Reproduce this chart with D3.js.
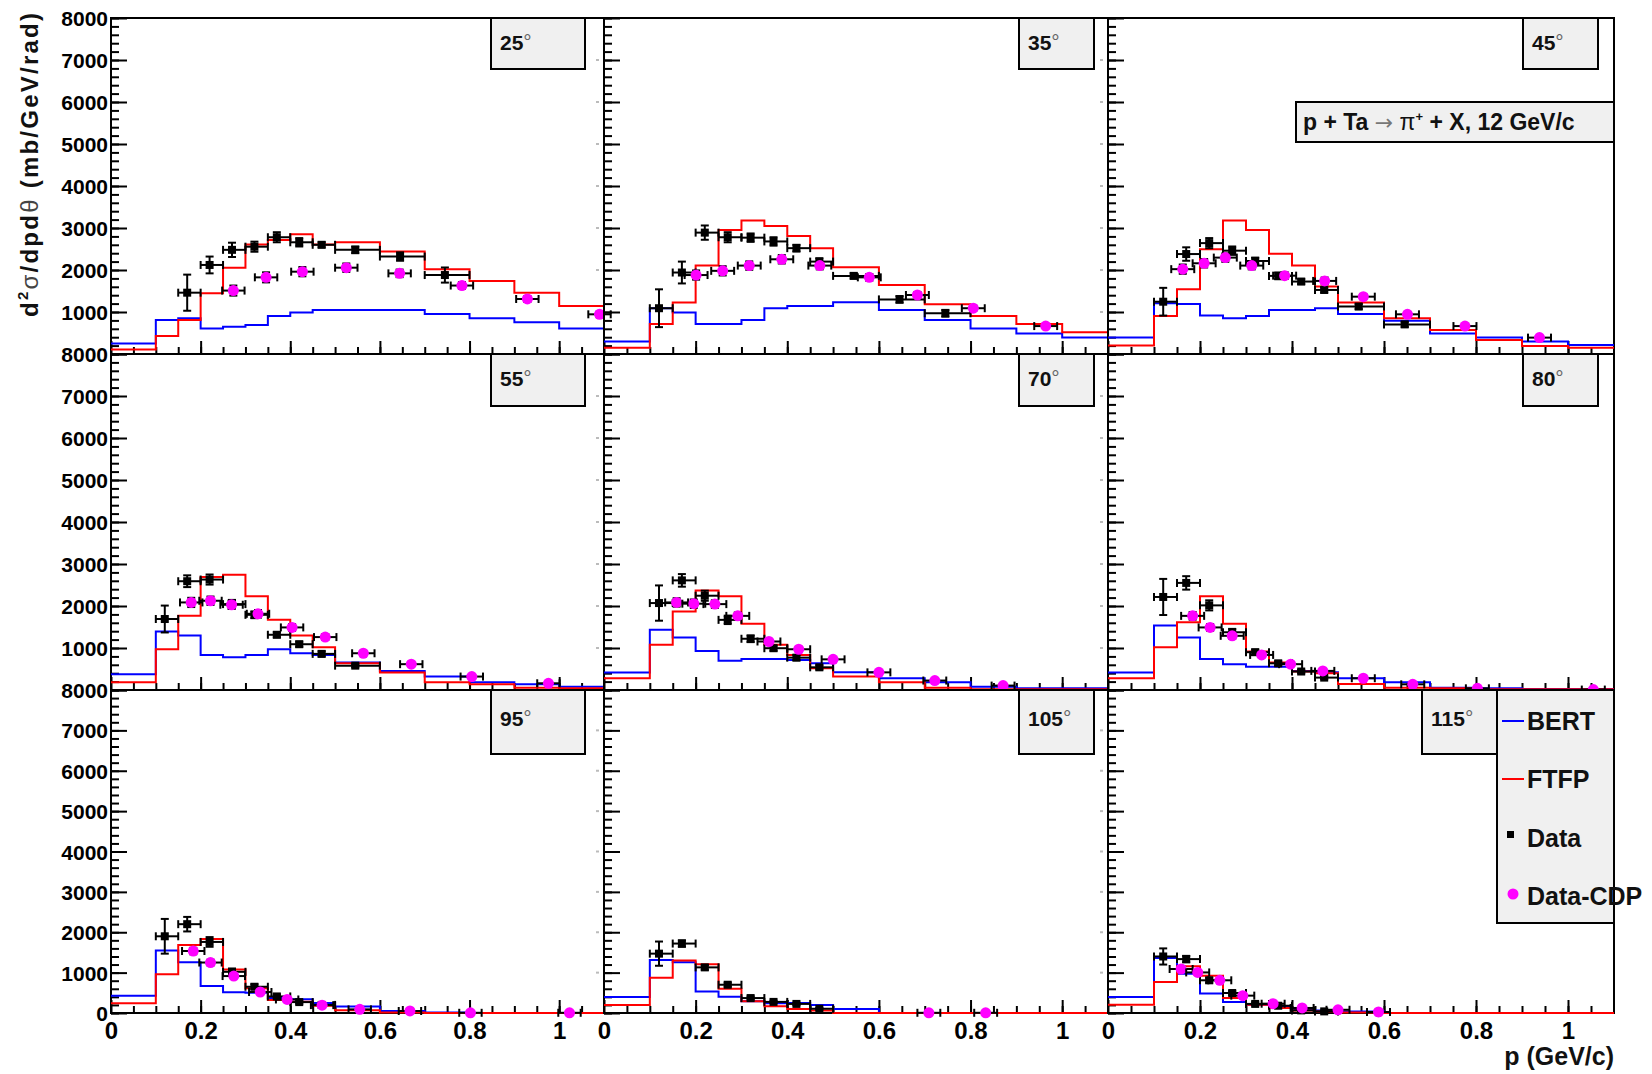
<!DOCTYPE html>
<html><head><meta charset="utf-8">
<script src="https://cdn.jsdelivr.net/npm/d3@7"></script>
<style>
body{margin:0;background:#fff}
svg{display:block}
text{font-family:"Liberation Sans",Arial,Helvetica,sans-serif;font-weight:bold}
</style>
</head><body>
<svg id="c" width="1652" height="1074"></svg>
<script>
// ---------------- DATA ----------------
const angles = ["25","35","45","55","70","80","95","105","115"];
const binEdges = [0,0.1,0.15,0.2,0.25,0.3,0.35,0.4,0.45,0.5,0.6,0.7,0.8,0.9,1.0,1.1];
const bertValues = [
  [250,810,850,610,650,690,905,990,1050,1050,1050,950,850,755,610],
  [295,1090,990,715,715,810,1090,1145,1145,1230,1050,810,610,490,390],
  [390,1210,1190,915,850,905,1050,1050,1090,955,790,490,390,295,215],
  [375,1395,1300,835,780,835,970,875,835,655,455,320,185,135,80],
  [415,1435,1250,930,695,740,740,715,635,420,280,185,80,40,40],
  [415,1535,1250,740,615,555,555,455,420,280,185,55,40,25,25],
  [430,1545,1255,670,515,500,370,340,250,160,50,15,0,0,0],
  [395,1310,1260,535,400,290,240,250,200,100,0,0,0,0,0],
  [395,1360,975,480,270,205,165,100,65,40,0,0,0,0,0]
];
const ftfpValues = [
  [110,430,810,1445,2055,2610,2715,2850,2610,2660,2440,2015,1740,1460,1145],
  [150,715,1225,2105,2955,3180,3050,2810,2520,2065,1645,1185,905,715,515],
  [200,905,1540,2495,3180,2955,2385,2105,1605,1225,850,570,335,190,150],
  [185,970,1765,2690,2745,2230,1670,1300,1020,635,415,185,135,55,40],
  [280,1075,1870,2370,2230,1575,1075,835,520,320,185,55,15,15,15],
  [280,1020,1615,2230,1575,915,655,440,400,145,55,40,15,15,15],
  [240,960,1685,1835,1075,610,320,280,180,70,15,0,0,0,0],
  [200,870,1300,1210,600,290,165,100,65,0,0,0,0,0,0],
  [205,765,1155,925,370,205,125,65,40,15,0,0,0,0,0]
];
const dataP = [
  [0.17,0.22,0.27,0.32,0.37,0.42,0.47,0.545,0.645,0.745],
  [0.12,0.17,0.22,0.27,0.32,0.37,0.42,0.47,0.545,0.645,0.745],
  [0.12,0.17,0.22,0.27,0.32,0.37,0.42,0.47,0.545,0.645],
  [0.12,0.17,0.22,0.27,0.32,0.37,0.42,0.47,0.545],
  [0.12,0.17,0.22,0.27,0.32,0.37,0.42,0.47],
  [0.12,0.17,0.22,0.27,0.32,0.37,0.42,0.47],
  [0.12,0.17,0.22,0.27,0.32,0.37,0.42,0.47],
  [0.12,0.17,0.22,0.27,0.32,0.37,0.42,0.47],
  [0.12,0.17,0.22,0.27,0.32,0.37,0.42,0.47]
];
const dataValues = [
  [1460,2120,2480,2555,2780,2660,2600,2480,2320,1880],
  [1090,1940,2890,2780,2770,2680,2520,2200,1860,1300,970],
  [1245,2380,2640,2460,2215,1860,1725,1525,1130,705],
  [1690,2590,2630,2045,1790,1315,1090,860,580],
  [2070,2610,2245,1670,1220,995,770,540],
  [2215,2550,2015,1375,900,635,440,295],
  [1900,2200,1760,1020,650,410,270,200],
  [1470,1720,1130,700,370,275,225,105],
  [1400,1335,810,495,225,180,65,40]
];
const dataErrors = [
  [430,200,170,120,120,100,60,80,100,180],
  [450,260,170,120,100,100,80,80,60,80,80],
  [330,160,120,100,80,80,60,60,60,60],
  [320,140,120,100,80,60,60,60,40],
  [420,150,120,100,80,60,60,50],
  [430,160,120,80,60,50,40,30],
  [430,180,120,80,60,50,40,30],
  [300,80,60,50,40,30,30,20],
  [200,80,60,50,40,30,20,20]
];
const cdpP = [
  [0.273,0.346,0.427,0.525,0.644,0.783,0.929,1.09],
  [0.201,0.259,0.317,0.388,0.471,0.579,0.684,0.806,0.964],
  [0.1625,0.209,0.255,0.3125,0.384,0.471,0.555,0.651,0.776,0.938],
  [0.179,0.222,0.269,0.328,0.404,0.478,0.563,0.67,0.805,0.976],
  [0.1585,0.196,0.242,0.292,0.36,0.425,0.50,0.60,0.722,0.871],
  [0.184,0.222,0.27,0.334,0.397,0.467,0.555,0.6625,0.803,1.055],
  [0.1835,0.222,0.274,0.333,0.393,0.471,0.555,0.667,0.802,1.023],
  [0.709,0.833],
  [0.159,0.195,0.243,0.293,0.359,0.422,0.5,0.588]
];
const cdpValues = [
  [1510,1825,1960,2055,1920,1630,1310,945],
  [1880,1980,2105,2255,2105,1825,1405,1090,665],
  [2020,2160,2295,2105,1865,1740,1365,945,665,390],
  [2085,2125,2030,1815,1490,1260,875,615,320,160],
  [2085,2055,2045,1765,1155,970,730,420,225,105],
  [1765,1490,1290,835,615,455,280,135,40,10],
  [1535,1250,915,520,335,195,90,50,5,5],
  [5,5],
  [1090,1005,810,430,230,125,80,25]
];
const cdpErrors = [
  [120,120,110,100,90,80,70,60],
  [110,110,100,100,90,80,70,60,40],
  [110,100,100,90,80,80,60,50,40,30],
  [110,100,100,90,80,70,50,40,30,20],
  [100,100,90,80,60,50,40,30,20,10],
  [90,80,70,50,40,30,20,10,10,10],
  [80,70,50,40,30,20,10,10,5,5],
  [5,5],
  [60,60,50,30,20,10,10,5]
];
const cdpHalfWidth = 0.025;
const yTickLabels = ["0","1000","2000","3000","4000","5000","6000","7000","8000"];
const xTickLabels = ["0","0.2","0.4","0.6","0.8","1"];
const legendLabels = ["BERT","FTFP","Data","Data-CDP"];

// ---------------- LAYOUT ----------------
const svg = d3.select("#c");
const cols = [[111,604],[604,1108],[1108,1614]];
const rows = [[18,354],[354,690],[690,1013]];
const boxCols = [[491,585],[1019,1094],[1523,1598]];
const boxRows = [[18,69,50],[354,406,386],[690,754,726]];
const C_BLUE = "#0000ff", C_RED = "#ff0000", C_MAG = "#ff00ff";

const yMajor = yTickLabels.map(Number);
const xMajor = xTickLabels.map(Number);

function line(g, x1, y1, x2, y2, color, w) {
  g.append("line").attr("x1",x1).attr("y1",y1).attr("x2",x2).attr("y2",y2)
    .attr("stroke",color||"#000").attr("stroke-width",w||2);
}

angles.forEach((ang, i) => {
  const r = Math.floor(i/3), c = i%3;
  const x = d3.scaleLinear().domain([0,1.1]).range(cols[c]);
  const y = d3.scaleLinear().domain([0,8000]).range([rows[r][1], rows[r][0]]);
  const g = svg.append("g");

  if (c < 2) {
    yMajor.slice(1).forEach(v => line(g, cols[c][1]-8, y(v), cols[c][1]-5, y(v), "#bbb", 2));
  }

  g.append("g").attr("transform",`translate(${cols[c][0]},0)`)
    .call(d3.axisLeft(y).tickValues(d3.range(0,8001,200)).tickSize(-8).tickSizeOuter(0).tickFormat(""))
    .call(a => { a.select(".domain").remove(); a.selectAll("line").attr("stroke-width",2); });
  g.append("g").attr("transform",`translate(${cols[c][0]},0)`)
    .call(d3.axisLeft(y).tickValues(yMajor).tickSize(-16).tickSizeOuter(0).tickPadding(3)
      .tickFormat((d,k) => c===0 && (r===2 || d!==0) ? yTickLabels[k] : ""))
    .call(a => {
      a.select(".domain").remove();
      a.selectAll("line").attr("stroke-width",2);
      a.attr("font-size",21).attr("font-family",null);
      a.selectAll("text").attr("dy","0.36em");
    });

  g.append("g").attr("transform",`translate(0,${rows[r][1]})`)
    .call(d3.axisBottom(x).tickValues(d3.range(0.05,1.1,0.05)).tickSize(-7).tickSizeOuter(0).tickFormat(""))
    .call(a => { a.select(".domain").remove(); a.selectAll("line").attr("stroke-width",2); });
  g.append("g").attr("transform",`translate(0,${rows[r][1]})`)
    .call(d3.axisBottom(x).tickValues(xMajor).tickSize(-13).tickSizeOuter(0).tickPadding(9)
      .tickFormat((d,k) => r===2 ? xTickLabels[k] : ""))
    .call(a => {
      a.select(".domain").remove();
      a.selectAll("line").attr("stroke-width",2);
      a.attr("font-size",24).attr("font-family",null);
    });

  g.append("rect").attr("x",cols[c][0]).attr("y",rows[r][0])
    .attr("width",cols[c][1]-cols[c][0]).attr("height",rows[r][1]-rows[r][0])
    .attr("fill","none").attr("stroke","#000").attr("stroke-width",2);

  const histLine = d3.line().x(d => x(d[0])).y(d => y(d[1])).curve(d3.curveStepAfter);
  const histPts = vals => vals.map((v,k) => [binEdges[k], v]).concat([[binEdges[binEdges.length-1], vals[vals.length-1]]]);
  g.append("path").attr("d", histLine(histPts(bertValues[i]))).attr("fill","none").attr("stroke",C_BLUE).attr("stroke-width",2);
  g.append("path").attr("d", histLine(histPts(ftfpValues[i]))).attr("fill","none").attr("stroke",C_RED).attr("stroke-width",2);

  dataP[i].forEach((p,k) => {
    const v = dataValues[i][k], e = dataErrors[i][k];
    let j = 0; while (j < binEdges.length-2 && binEdges[j+1] <= p) j++;
    const px = x(p), py = y(v);
    const xl = x(binEdges[j]), xh = x(binEdges[j+1]);
    line(g, xl, py, xh, py); line(g, xl, py-4, xl, py+4); line(g, xh, py-4, xh, py+4);
    const yt = y(v+e), yb = y(v-e);
    line(g, px, yt, px, yb); line(g, px-4, yt, px+4, yt); line(g, px-4, yb, px+4, yb);
    g.append("rect").attr("x",px-4).attr("y",py-4).attr("width",8).attr("height",8).attr("fill","#000");
  });

  cdpP[i].forEach((p,k) => {
    const v = cdpValues[i][k], e = cdpErrors[i][k];
    const px = x(p), py = y(v);
    const xl = x(p-cdpHalfWidth), xh = x(p+cdpHalfWidth);
    line(g, xl, py, xh, py); line(g, xl, py-4, xl, py+4); line(g, xh, py-4, xh, py+4);
    const yt = y(v+e), yb = y(v-e);
    line(g, px, yt, px, yb); line(g, px-4, yt, px+4, yt); line(g, px-4, yb, px+4, yb);
    g.append("circle").attr("cx",px).attr("cy",py).attr("r",5.5).attr("fill",C_MAG);
  });

  const bx = (i === 8) ? [1422,1497] : boxCols[c];
  const br = boxRows[r];
  g.append("rect").attr("x",bx[0]).attr("y",br[0]).attr("width",bx[1]-bx[0]).attr("height",br[1]-br[0])
    .attr("fill","#f0f0f0").attr("stroke","#000").attr("stroke-width",2);
  const t = g.append("text").attr("x",bx[0]+9).attr("y",br[2]).attr("font-size",21).attr("fill","#111").text(ang);
  t.append("tspan").attr("font-weight","normal").attr("fill","#666").attr("font-size",21).attr("dy",-1).text("°");
});

// process pave
svg.append("rect").attr("x",1296).attr("y",102).attr("width",318).attr("height",40)
  .attr("fill","#f0f0f0").attr("stroke","#000").attr("stroke-width",2);
const pv = svg.append("text").attr("x",1303).attr("y",130).attr("font-size",23).attr("fill","#111");
pv.append("tspan").text("p + Ta  ");
pv.append("tspan").attr("font-weight","normal").attr("fill","#777").attr("font-family","DejaVu Sans").attr("font-size",22).text("\u2192");
pv.append("tspan").attr("font-weight","normal").text(" \u03c0");
pv.append("tspan").attr("font-size",13).attr("dy",-9).text("+");
pv.append("tspan").attr("dy",9).text(" + X, 12 GeV/c");

// legend
svg.append("rect").attr("x",1497).attr("y",690).attr("width",117).attr("height",233)
  .attr("fill","#f0f0f0").attr("stroke","#000").attr("stroke-width",2);
const legBase = [730,788,847,905];
legendLabels.forEach((lab,k) => {
  const yb = legBase[k];
  if (k === 0) line(svg, 1502, yb-9, 1524, yb-9, C_BLUE, 2);
  if (k === 1) line(svg, 1502, yb-9, 1524, yb-9, C_RED, 2);
  if (k === 2) svg.append("rect").attr("x",1507).attr("y",yb-16).attr("width",7).attr("height",7).attr("fill","#000");
  if (k === 3) svg.append("circle").attr("cx",1513).attr("cy",yb-11).attr("r",5.5).attr("fill",C_MAG);
  svg.append("text").attr("x",1527).attr("y",yb).attr("font-size",25).attr("fill","#111").text(lab);
});

// axis titles
const yt = svg.append("text").attr("transform","translate(38,13) rotate(-90)")
  .attr("text-anchor","end").attr("font-size",24).attr("fill","#111")
  .attr("textLength",304).attr("lengthAdjust","spacing");
yt.append("tspan").text("d");
yt.append("tspan").attr("font-size",15).attr("dy",-10).text("2");
yt.append("tspan").attr("dy",10).attr("font-weight","normal").attr("fill","#444").text("\u03c3");
yt.append("tspan").text("/dpd");
yt.append("tspan").attr("font-weight","normal").attr("fill","#444").text("\u03b8");
yt.append("tspan").text(" (mb/GeV/rad)");

svg.append("text").attr("x",1614).attr("y",1065).attr("text-anchor","end")
  .attr("font-size",25).attr("fill","#111").text("p (GeV/c)");
</script>
</body></html>
